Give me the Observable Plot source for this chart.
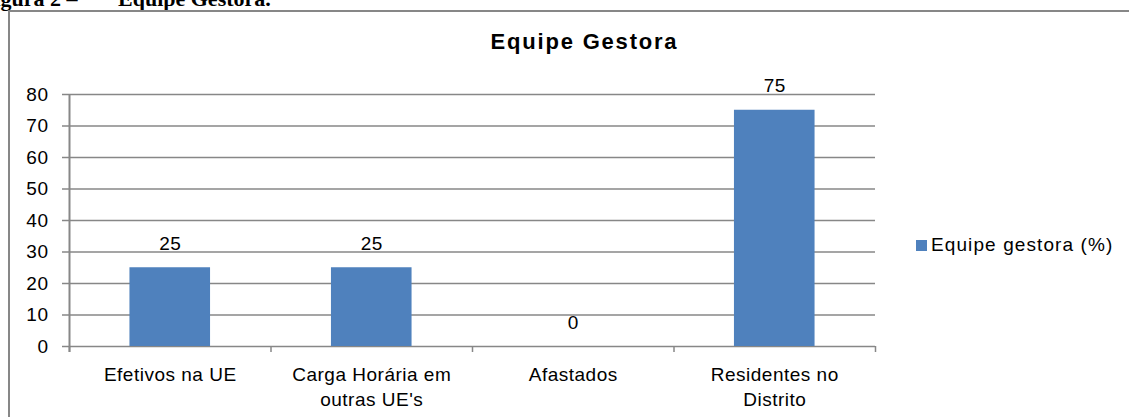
<!DOCTYPE html>
<html>
<head>
<meta charset="utf-8">
<script src="https://cdn.jsdelivr.net/npm/d3@7"></script>
<script src="https://cdn.jsdelivr.net/npm/@observablehq/plot@0.6"></script>
<style>
  html, body { margin: 0; padding: 0; background: #fff; }
  #wrap { position: relative; width: 1129px; height: 417px; overflow: hidden; background: #fff; }
  #frame { position: absolute; left: 8px; top: 10px; width: 1300px; height: 600px; border: 2px solid #878787; box-sizing: border-box; }
  .cap { position: absolute; top: -12px; font-family: "Liberation Serif", serif; font-weight: bold; font-size: 22px; line-height: 22px; color: #000; white-space: nowrap; }
  #title { position: absolute; left: 0; width: 1129px; top: 29px; text-align: center; font-family: "Liberation Sans", Arial, sans-serif; font-weight: bold; font-size: 22px; letter-spacing: 1.8px; color: #000; padding-left: 40px; box-sizing: border-box; }
  #plot { position: absolute; left: 0; top: 60px; }
  #legend { position: absolute; left: 916px; top: 234px; font-family: "Liberation Sans", Arial, sans-serif; font-size: 19px; letter-spacing: 1.1px; color: #000; display: flex; align-items: center; white-space: nowrap; }
  #legend .sw { width: 11px; height: 11px; margin-right: 4px; }
</style>
</head>
<body>
<div id="wrap">
  <div class="cap" style="left:-19px">Figura 2 –</div>
  <div class="cap" style="left:118px">Equipe Gestora.</div>
  <div id="frame"></div>
  <div id="title"></div>
  <div id="plot"></div>
  <div id="legend"></div>
</div>
<script>
const chartTitle = "Equipe Gestora";
const seriesName = "Equipe gestora (%)";
const categories = ["Efetivos na UE", "Carga Horária em\noutras UE's", "Afastados", "Residentes no\nDistrito"];
const values = [25, 25, 0, 75];
const yTicks = [0, 10, 20, 30, 40, 50, 60, 70, 80];
const barColor = "#4f81bd";

const data = categories.map((c, i) => ({cat: c, idx: i, value: values[i]}));
const boundaries = d3.range(categories.length + 1);
const font = "'Liberation Sans', Arial, sans-serif";
const grid = "#878787";

document.getElementById("title").textContent = chartTitle;
const lg = document.getElementById("legend");
lg.innerHTML = `<div class="sw" style="background:${barColor}"></div><span></span>`;
lg.querySelector("span").textContent = seriesName;

const chart = Plot.plot({
  width: 1129,
  height: 357,
  marginLeft: 69,
  marginRight: 254,
  marginTop: 34,
  marginBottom: 71,
  style: {fontFamily: font, fontSize: "19px", color: "#000", background: "transparent", letterSpacing: "0.5px"},
  x: {domain: [0, categories.length], axis: null},
  y: {domain: [0, 80], axis: null},
  marks: [
    Plot.ruleY(yTicks, {stroke: grid, strokeWidth: 1.3, insetLeft: -7}),
    Plot.ruleX([0], {stroke: grid, strokeWidth: 2, insetBottom: -6}),
    Plot.axisX({ticks: boundaries, tickSize: 6, tickFormat: () => "", label: null, stroke: grid, strokeWidth: 1.5, strokeOpacity: 1}),
    Plot.axisY({ticks: yTicks, tickSize: 0, tickPadding: 21, label: null, fontSize: 19, fill: "#000"}),
    Plot.rectY(data, {x1: d => d.idx + 0.3, x2: d => d.idx + 0.7, y: "value", fill: barColor}),
    Plot.text(data, {x: d => d.idx + 0.5, y: "value", text: d => String(d.value), dy: -24, fontSize: 19, fill: "#000"}),
    Plot.text(data, {x: d => d.idx + 0.5, text: "cat", frameAnchor: "bottom", lineAnchor: "top", dy: 17, lineHeight: 1.3, fontSize: 19, fill: "#000"})
  ]
});
document.getElementById("plot").appendChild(chart);
</script>
</body>
</html>
